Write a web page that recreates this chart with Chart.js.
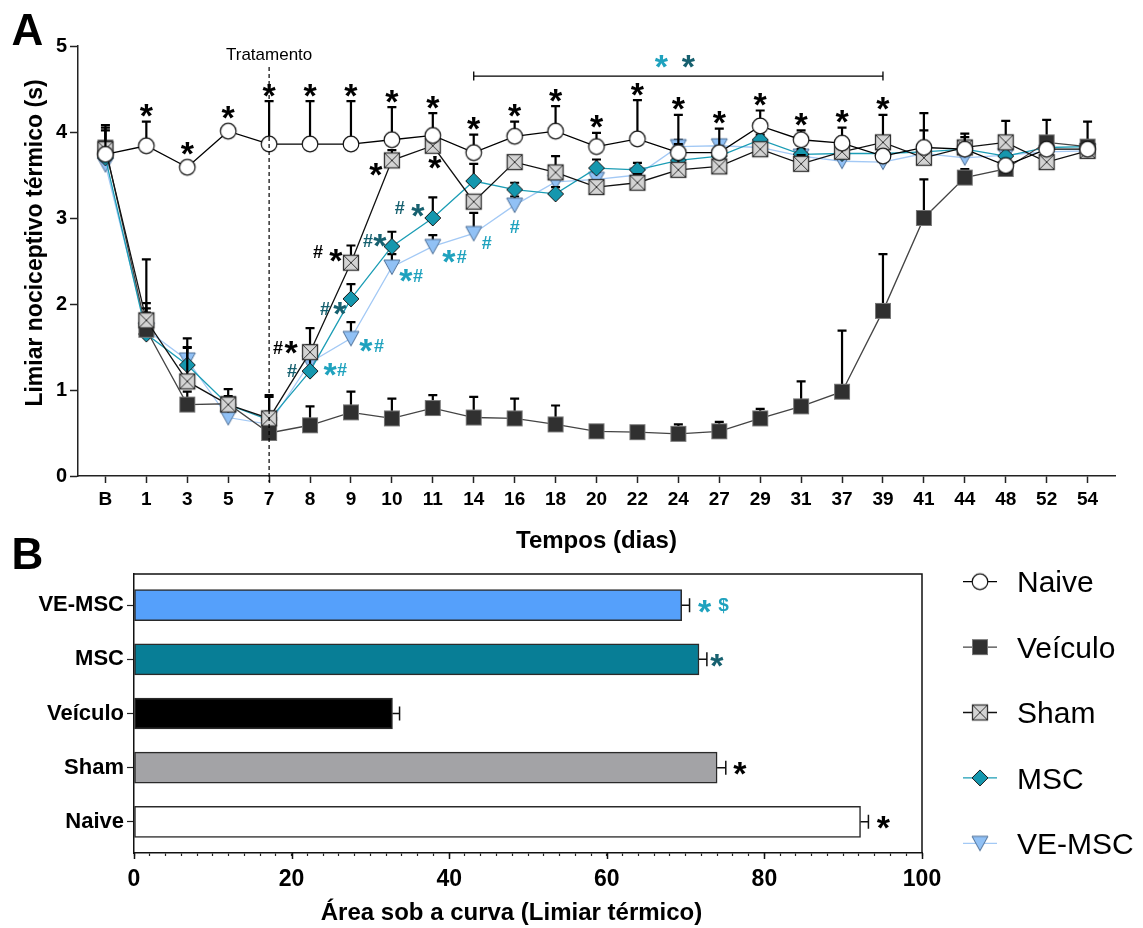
<!DOCTYPE html>
<html lang="pt">
<head>
<meta charset="utf-8">
<title>Limiar nociceptivo térmico</title>
<script src="https://cdn.jsdelivr.net/npm/chart.js@4.4.1/dist/chart.umd.min.js"></script>
<style>
  html, body { margin: 0; padding: 0; background: #fff; }
  #wrap { position: relative; width: 1143px; height: 928px; background: #fff; }
  #wrap canvas { position: absolute; left: 0; }
  #curve { top: 0; }
  #auc { top: 520px; }
</style>
</head>
<body>
<div id="wrap">
  <canvas id="curve" width="1143" height="560"></canvas>
  <canvas id="auc" width="1143" height="408"></canvas>
</div>
<script>
'use strict';

/* Time course: thermal threshold (s), mean and SEM per day */
const days = ['B', '1', '3', '5', '7', '8', '9', '10', '11', '14', '16', '18', '20', '22', '24', '27', '29', '31', '37', '39', '41', '44', '48', '52', '54'];
const naive =      [3.74, 3.84, 3.59, 4.01, 3.86, 3.86, 3.86, 3.91, 3.96, 3.76, 3.95, 4.01, 3.83, 3.92, 3.76, 3.76, 4.07, 3.91, 3.87, 3.72, 3.82, 3.80, 3.61, 3.80, 3.80];
const naiveSem =   [0.34, 0.28, 0, 0, 0.50, 0.50, 0.50, 0.38, 0.26, 0.21, 0.17, 0.29, 0.16, 0.45, 0.44, 0.28, 0.18, 0.11, 0.18, 0, 0.40, 0.18, 0, 0, 0];
const veiculo =    [3.82, 1.70, 0.83, 0.84, 0.50, 0.59, 0.74, 0.67, 0.79, 0.68, 0.67, 0.60, 0.52, 0.51, 0.49, 0.52, 0.67, 0.81, 0.98, 1.92, 3.00, 3.47, 3.57, 3.88, 3.83];
const veiculoSem = [0.20, 0.82, 0.15, 0.17, 0.44, 0.22, 0.24, 0.23, 0.15, 0.24, 0.23, 0.22, 0, 0.03, 0.11, 0.11, 0.11, 0.29, 0.71, 0.66, 0.45, 0.10, 0.10, 0.26, 0.29];
const sham =       [3.80, 1.81, 1.10, 0.83, 0.67, 1.44, 2.48, 3.67, 3.84, 3.19, 3.65, 3.53, 3.36, 3.41, 3.56, 3.60, 3.80, 3.63, 3.77, 3.88, 3.70, 3.82, 3.88, 3.65, 3.78];
const shamSem =    [0.25, 0.20, 0.40, 0.10, 0.25, 0.28, 0.20, 0.12, 0.15, 0, 0, 0.19, 0.05, 0.10, 0.30, 0.20, 0.05, 0.10, 0.10, 0.32, 0.32, 0.12, 0.25, 0.10, 0.08];
const msc =        [3.70, 1.65, 1.29, 0.83, 0.65, 1.22, 2.06, 2.67, 3.00, 3.43, 3.33, 3.28, 3.58, 3.56, 3.67, 3.72, 3.91, 3.74, 3.75, 3.75, 3.77, 3.80, 3.72, 3.82, 3.83];
const mscSem =     [0.10, 0.30, 0.20, 0.08, 0.10, 0.30, 0.17, 0.17, 0.24, 0.20, 0.08, 0.08, 0.10, 0.08, 0.10, 0.08, 0.06, 0.06, 0.06, 0.06, 0.08, 0.06, 0.08, 0.06, 0.06];
const veMsc =      [3.62, 1.70, 1.35, 0.68, 0.60, 1.32, 1.60, 2.43, 2.67, 2.82, 3.15, 3.42, 3.45, 3.50, 3.83, 3.84, 3.82, 3.72, 3.66, 3.65, 3.75, 3.70, 3.73, 3.77, 3.78];
const veMscSem =   [0.10, 0.20, 0.25, 0.08, 0.08, 0.15, 0.19, 0.15, 0.13, 0.24, 0.10, 0.08, 0.08, 0.08, 0.08, 0.06, 0.06, 0.06, 0.06, 0.06, 0.06, 0.06, 0.06, 0.06, 0.06];
const yTicks = [0, 1, 2, 3, 4, 5];
const treatmentDay = '7';
// Naive vs Veículo significant on days 1 to 39
const naiveStarDays = ['1', '3', '5', '7', '8', '9', '10', '11', '14', '16', '18', '20', '22', '24', '27', '29', '31', '37', '39'];
// bracket spanning the days where both treated groups differ from Veículo
const bracketFrom = '14';
const bracketTo = '39';

/* Area under the curve */
const aucGroups = ['VE-MSC', 'MSC', 'Veículo', 'Sham', 'Naive'];
const aucMean = [69.5, 71.7, 32.8, 74.0, 92.2];
const aucSem = [1.0, 1.0, 0.9, 1.1, 1.0];
const aucTicks = [0, 20, 40, 60, 80, 100];

const FONT = '"Liberation Sans", Arial, Helvetica, sans-serif';
const DARK = '#16606f';
const CYAN = '#1fa2be';

// significance signs next to the treated groups: day, x shift (px), height (s), sign, colour
const signsA = [
  ['8', -32, 1.49, '#', '#000'], ['8', -19, 1.50, '*', '#000'],
  ['8', -18, 1.23, '#', DARK],
  ['8', 20, 1.24, '*', CYAN], ['8', 32, 1.24, '#', CYAN],
  ['9', -33, 2.61, '#', '#000'], ['9', -15, 2.56, '*', '#000'],
  ['9', -26, 1.95, '#', DARK], ['9', -11, 1.95, '*', DARK],
  ['9', 15, 1.52, '*', CYAN], ['9', 28, 1.52, '#', CYAN],
  ['10', -16, 3.56, '*', '#000'],
  ['10', -24, 2.74, '#', DARK], ['10', -12, 2.74, '*', DARK],
  ['10', 14, 2.33, '*', CYAN], ['10', 26, 2.33, '#', CYAN],
  ['11', 2, 3.65, '*', '#000'],
  ['11', -33, 3.12, '#', DARK], ['11', -15, 3.09, '*', DARK],
  ['11', 16, 2.55, '*', CYAN], ['11', 29, 2.55, '#', CYAN],
  ['14', 13, 2.72, '#', CYAN],
  ['16', 0, 2.90, '#', CYAN]
];

// draw a glyph centred on its own ink box
function glyph(ctx, t, x, y, color, size, weight) {
  ctx.font = `${weight || 'bold'} ${size}px ${FONT}`;
  ctx.fillStyle = color;
  ctx.textAlign = 'center';
  ctx.textBaseline = 'alphabetic';
  const m = ctx.measureText(t);
  ctx.fillText(t, x, y + (m.actualBoundingBoxAscent - m.actualBoundingBoxDescent) / 2);
}
function sign(ctx, t, x, y, color) {
  if (t === '*') glyph(ctx, t, x, y, color, 34);
  else if (t === '$') glyph(ctx, t, x, y, color, 19);
  else glyph(ctx, t, x, y, color, 18);
}
// text placed by the centre of its capitals
function capText(ctx, t, x, y, size, weight, align) {
  ctx.font = `${weight} ${size}px ${FONT}`;
  ctx.fillStyle = '#000';
  ctx.textAlign = align || 'center';
  ctx.textBaseline = 'alphabetic';
  ctx.fillText(t, x, y + size * 0.358);
}

/* Point markers */
function marker(draw) {
  const c = document.createElement('canvas');
  c.width = 22;
  c.height = 22;
  const g = c.getContext('2d');
  g.translate(11, 11);
  draw(g);
  return c;
}
const markers = {
  naive: marker(g => {
    g.beginPath();
    g.arc(0, 0, 7.8, 0, Math.PI * 2);
    g.fillStyle = '#fff';
    g.fill();
    g.lineWidth = 1.2;
    g.strokeStyle = '#111';
    g.stroke();
  }),
  veiculo: marker(g => {
    g.fillStyle = '#303030';
    g.fillRect(-7.5, -7.5, 15, 15);
    g.lineWidth = 1;
    g.strokeStyle = '#777';
    g.strokeRect(-7.5, -7.5, 15, 15);
  }),
  sham: marker(g => {
    g.fillStyle = '#d4d4d4';
    g.fillRect(-7.5, -7.5, 15, 15);
    g.strokeStyle = '#333';
    g.lineWidth = 1.3;
    g.strokeRect(-7.5, -7.5, 15, 15);
    g.lineWidth = 1;
    g.beginPath();
    g.moveTo(-7.5, -7.5); g.lineTo(7.5, 7.5);
    g.moveTo(7.5, -7.5); g.lineTo(-7.5, 7.5);
    g.stroke();
  }),
  msc: marker(g => {
    g.beginPath();
    g.moveTo(0, -8); g.lineTo(8, 0); g.lineTo(0, 8); g.lineTo(-8, 0);
    g.closePath();
    g.fillStyle = '#1597ae';
    g.fill();
    g.lineWidth = 1;
    g.strokeStyle = '#1a1a1a';
    g.stroke();
  }),
  veMsc: marker(g => {
    g.beginPath();
    g.moveTo(-8, -7); g.lineTo(8, -7); g.lineTo(0, 7.5);
    g.closePath();
    g.fillStyle = '#91c1f5';
    g.fill();
    g.lineWidth = 1;
    g.strokeStyle = '#4d6f96';
    g.stroke();
  })
};

const series = [
  { label: 'Naive', values: naive, sem: naiveSem, line: '#000', marker: markers.naive, order: 0 },
  { label: 'Veículo', values: veiculo, sem: veiculoSem, line: '#444', marker: markers.veiculo, order: 2 },
  { label: 'Sham', values: sham, sem: shamSem, line: '#111', marker: markers.sham, order: 1 },
  { label: 'MSC', values: msc, sem: mscSem, line: '#1b9db5', marker: markers.msc, order: 3 },
  { label: 'VE-MSC', values: veMsc, sem: veMscSem, line: '#a3c9f5', marker: markers.veMsc, order: 4 }
];

/* Panel A plugins */
const errorBarsA = {
  id: 'errorBarsA',
  beforeDatasetDraw(chart, args) {
    const s = series[args.index];
    const { ctx, scales: { x, y } } = chart;
    ctx.save();
    ctx.strokeStyle = '#000';
    ctx.lineWidth = 2.2;
    s.values.forEach((v, i) => {
      if (!s.sem[i]) return;
      const px = x.getPixelForValue(i);
      const top = y.getPixelForValue(v + s.sem[i]);
      ctx.beginPath();
      ctx.moveTo(px, y.getPixelForValue(v));
      ctx.lineTo(px, top);
      ctx.moveTo(px - 4.5, top);
      ctx.lineTo(px + 4.5, top);
      ctx.stroke();
    });
    ctx.restore();
  }
};

const decorA = {
  id: 'decorA',
  afterDatasetsDraw(chart) {
    const { ctx, scales: { x, y }, chartArea } = chart;
    ctx.save();

    // treatment start
    const tx = x.getPixelForValue(days.indexOf(treatmentDay));
    ctx.strokeStyle = '#000';
    ctx.lineWidth = 1.2;
    ctx.setLineDash([4, 3]);
    ctx.beginPath();
    ctx.moveTo(tx, 67);
    ctx.lineTo(tx, chartArea.bottom + 6);
    ctx.stroke();
    ctx.setLineDash([]);
    capText(ctx, 'Tratamento', tx, 54, 17, 'normal');

    // Naive stars sit above the highest error bar of the day
    naiveStarDays.forEach(d => {
      const i = days.indexOf(d);
      let top = y.getPixelForValue(naive[i]) - 8;
      series.forEach(s => { top = Math.min(top, y.getPixelForValue(s.values[i] + s.sem[i])); });
      sign(ctx, '*', x.getPixelForValue(i), top - 11, '#000');
    });

    signsA.forEach(([d, dx, v, t, c]) => {
      sign(ctx, t, x.getPixelForValue(days.indexOf(d)) + dx, y.getPixelForValue(v), c);
    });

    // bracket with the two treated-group stars
    const bx0 = x.getPixelForValue(days.indexOf(bracketFrom));
    const bx1 = x.getPixelForValue(days.indexOf(bracketTo));
    const by = y.getPixelForValue(4.65);
    ctx.strokeStyle = '#000';
    ctx.lineWidth = 1.3;
    ctx.beginPath();
    ctx.moveTo(bx0, by); ctx.lineTo(bx1, by);
    ctx.moveTo(bx0, by - 4.5); ctx.lineTo(bx0, by + 4.5);
    ctx.moveTo(bx1, by - 4.5); ctx.lineTo(bx1, by + 4.5);
    ctx.stroke();
    const mid = (bx0 + bx1) / 2;
    sign(ctx, '*', mid - 17, y.getPixelForValue(4.82), CYAN);
    sign(ctx, '*', mid + 10, y.getPixelForValue(4.82), DARK);

    // titles
    capText(ctx, 'Tempos (dias)', (chartArea.left + chartArea.right) / 2, 539.5, 24, 'bold');
    ctx.save();
    ctx.translate(33.5, 243);
    ctx.rotate(-Math.PI / 2);
    capText(ctx, 'Limiar nociceptivo térmico (s)', 0, 0, 23, 'bold');
    ctx.restore();
    glyph(ctx, 'A', 27.5, 29.2, '#000', 44);
    ctx.restore();
  }
};

new Chart(document.getElementById('curve'), {
  type: 'line',
  data: {
    datasets: series.map(s => ({
      label: s.label,
      data: s.values.map((v, i) => ({ x: i, y: v })),
      borderColor: s.line,
      borderWidth: 1.3,
      tension: 0,
      pointStyle: s.marker,
      pointRadius: 8,
      order: s.order
    }))
  },
  options: {
    responsive: false,
    animation: false,
    devicePixelRatio: 1,
    layout: { padding: { left: 0, top: 46, right: 28, bottom: 0 } },
    plugins: { legend: { display: false }, tooltip: { enabled: false } },
    scales: {
      x: {
        type: 'linear',
        min: -0.67,
        max: 24.67,
        afterBuildTicks: s => { s.ticks = days.map((d, i) => ({ value: i })); },
        afterFit: s => { s.height = 84; },
        ticks: {
          autoSkip: false, maxRotation: 0, padding: 5, color: '#000',
          font: { family: FONT, size: 19, weight: 'bold' },
          callback: v => days[v]
        },
        grid: { drawOnChartArea: false, tickLength: 7, tickColor: '#222', tickWidth: 1.5 },
        border: { color: '#222', width: 1.5 }
      },
      y: {
        min: 0,
        max: 5,
        afterBuildTicks: s => { s.ticks = yTicks.map(v => ({ value: v })); },
        afterFit: s => { s.width = 78; },
        ticks: { padding: 3, color: '#000', font: { family: FONT, size: 20, weight: 'bold' } },
        grid: { drawOnChartArea: false, tickLength: 8, tickColor: '#222', tickWidth: 1.5 },
        border: { color: '#222', width: 1.5 }
      }
    }
  },
  plugins: [errorBarsA, decorA]
});

/* Panel B */
const aucColors = ['#55a0fb', '#087e96', '#000000', '#a3a3a6', '#ffffff'];
// stars after each error bar: group index, x shift (px), sign, colour
const signsB = [[0, 15, '*', CYAN], [0, 34, '$', CYAN], [1, 10, '*', DARK], [3, 14, '*', '#000'], [4, 15, '*', '#000']];
const minorTicks = [];
for (let v = aucTicks[0]; v <= aucTicks[aucTicks.length - 1]; v += 2) minorTicks.push(v);

const decorB = {
  id: 'decorB',
  afterDatasetsDraw(chart) {
    const { ctx, scales: { x, y }, chartArea } = chart;
    ctx.save();

    // error bars
    ctx.strokeStyle = '#111';
    ctx.lineWidth = 1.5;
    aucMean.forEach((v, i) => {
      const py = y.getPixelForValue(i);
      const x1 = x.getPixelForValue(v + aucSem[i]);
      ctx.beginPath();
      ctx.moveTo(x.getPixelForValue(v), py);
      ctx.lineTo(x1, py);
      ctx.moveTo(x1, py - 7);
      ctx.lineTo(x1, py + 7);
      ctx.stroke();
    });
    signsB.forEach(([i, dx, t, c]) => {
      sign(ctx, t, x.getPixelForValue(aucMean[i] + aucSem[i]) + dx, y.getPixelForValue(i) + 1, c);
    });

    // frame and longer major ticks
    ctx.strokeStyle = '#111';
    ctx.lineWidth = 1.5;
    ctx.beginPath();
    ctx.moveTo(chartArea.left, chartArea.top);
    ctx.lineTo(chartArea.right, chartArea.top);
    ctx.lineTo(chartArea.right, chartArea.bottom);
    aucTicks.forEach(v => {
      const px = Math.round(x.getPixelForValue(v)) + 0.5;
      ctx.moveTo(px, chartArea.bottom);
      ctx.lineTo(px, chartArea.bottom + 6);
    });
    ctx.stroke();

    capText(ctx, 'Área sob a curva (Limiar térmico)', 511.5, 391, 24, 'bold');
    glyph(ctx, 'B', 27.5, 33, '#000', 44);

    // legend for the time-course groups
    series.forEach((s, k) => {
      const ly = 61.7 + k * 65.4;
      ctx.strokeStyle = s.line;
      ctx.lineWidth = 1.3;
      ctx.beginPath();
      ctx.moveTo(963, ly);
      ctx.lineTo(997, ly);
      ctx.stroke();
      ctx.drawImage(s.marker, 980 - 11, ly - 11);
      capText(ctx, s.label, 1017, ly, 30, 'normal', 'left');
    });
    ctx.restore();
  }
};

new Chart(document.getElementById('auc'), {
  type: 'bar',
  data: {
    datasets: [{
      data: aucMean.map((v, i) => ({ x: v, y: i })),
      backgroundColor: aucColors,
      borderColor: '#2a2a2a',
      borderWidth: 1.5,
      borderSkipped: false,
      barThickness: 31
    }]
  },
  options: {
    indexAxis: 'y',
    responsive: false,
    animation: false,
    devicePixelRatio: 1,
    layout: { padding: { left: 0, top: 54, right: 221, bottom: 0 } },
    plugins: { legend: { display: false }, tooltip: { enabled: false } },
    scales: {
      x: {
        type: 'linear',
        min: 0,
        max: 100,
        afterBuildTicks: s => { s.ticks = minorTicks.map(v => ({ value: v })); },
        afterFit: s => { s.height = 75; },
        ticks: {
          autoSkip: false, maxRotation: 0, padding: 10, color: '#000',
          font: { family: FONT, size: 23, weight: 'bold' },
          callback: v => (aucTicks.includes(v) ? v : '')
        },
        grid: { drawOnChartArea: false, tickLength: 3, tickColor: '#222', tickWidth: 1.2 },
        border: { color: '#111', width: 1.5 }
      },
      y: {
        type: 'linear',
        reverse: true,
        offset: false,
        min: -0.575,
        max: 4.575,
        afterBuildTicks: s => { s.ticks = aucGroups.map((g, i) => ({ value: i })); },
        afterFit: s => { s.width = 134; },
        ticks: {
          padding: 3, color: '#000',
          font: { family: FONT, size: 22, weight: 'bold' },
          callback: v => aucGroups[v]
        },
        grid: { offset: false, drawOnChartArea: false, tickLength: 7, tickColor: '#222', tickWidth: 1.2 },
        border: { color: '#111', width: 1.5 }
      }
    }
  },
  plugins: [decorB]
});
</script>
</body>
</html>
